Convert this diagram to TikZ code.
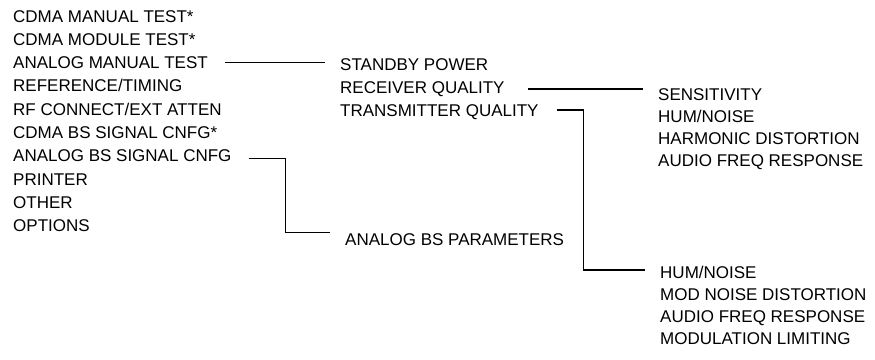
\documentclass[tikz,border=0pt]{standalone}
\usepackage{fontspec}
\setmainfont{Liberation Sans}
\begin{document}
\begin{tikzpicture}[x=1pt,y=-1pt,
  lbl/.style={anchor=base west, inner sep=0pt, font=\fontsize{17}{20}\selectfont, text height=12pt, text depth=0pt},
  conn/.style={line width=1.1pt, black}]
\useasboundingbox (0,0) rectangle (875,359);
% left column
\node[lbl] (l1)  at (13,22)    {CDMA MANUAL TEST*};
\node[lbl] (l2)  at (13,45.3)  {CDMA MODULE TEST*};
\node[lbl] (l3)  at (13,68.6)  {ANALOG MANUAL TEST};
\node[lbl] (l4)  at (13,91.9)  {REFERENCE/TIMING};
\node[lbl] (l5)  at (13,115.2) {RF CONNECT/EXT ATTEN};
\node[lbl] (l6)  at (13,138.5) {CDMA BS SIGNAL CNFG*};
\node[lbl] (l7)  at (13,161.8) {ANALOG BS SIGNAL CNFG};
\node[lbl] (l8)  at (13,185.1) {PRINTER};
\node[lbl] (l9)  at (13,208.4) {OTHER};
\node[lbl] (l10) at (13,231.7) {OPTIONS};
% middle column
\node[lbl] (m1) at (340,70)  {STANDBY POWER};
\node[lbl] (m2) at (340,93)  {RECEIVER QUALITY};
\node[lbl] (m3) at (340,116) {TRANSMITTER QUALITY};
\node[lbl] (abp) at (345,245) {ANALOG BS PARAMETERS};
% right upper
\node[lbl] (r1) at (658,100) {SENSITIVITY};
\node[lbl] (r2) at (658,122) {HUM/NOISE};
\node[lbl] (r3) at (658,144) {HARMONIC DISTORTION};
\node[lbl] (r4) at (658,166) {AUDIO FREQ RESPONSE};
% right lower
\node[lbl] (s1) at (660,278) {HUM/NOISE};
\node[lbl] (s2) at (660,300) {MOD NOISE DISTORTION};
\node[lbl] (s3) at (660,322) {AUDIO FREQ RESPONSE};
\node[lbl] (s4) at (660,344) {MODULATION LIMITING};
% connectors
\draw[conn] ([xshift=17pt]l3.east) -- ([xshift=-15pt]m1.west |- l3.east);
\draw[conn, transform canvas={yshift=-2pt}] ([xshift=23pt]m2.east) -- ([xshift=-15pt]r1.west |- m2.east);
\draw[conn] ([xshift=18pt]m3.east) -- ([xshift=45pt]m3.east) |- ([xshift=-15pt,yshift=2pt]s1.west);
\draw[conn] ([xshift=17pt,yshift=-3pt]l7.east) -- ([xshift=54pt,yshift=-3pt]l7.east) |- ([xshift=-15pt]abp.north west);
\end{tikzpicture}
\end{document}
